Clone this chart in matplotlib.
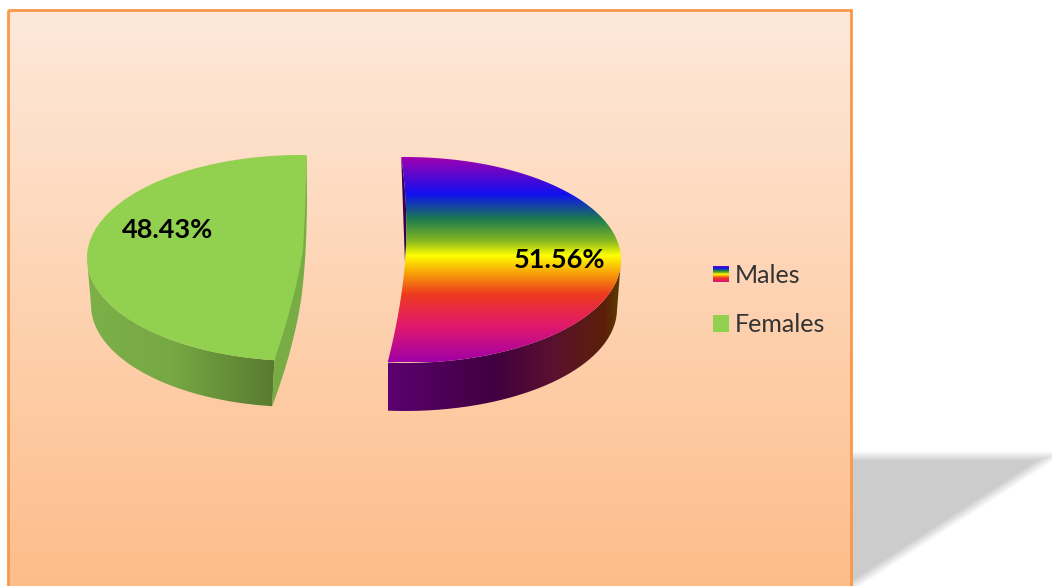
import numpy as np
import matplotlib
matplotlib.use("Agg")
import matplotlib.pyplot as plt
from matplotlib.colors import LinearSegmentedColormap
from matplotlib.legend_handler import HandlerBase
from matplotlib.patches import Patch, PathPatch, Polygon, Rectangle
from matplotlib.path import Path

plt.rcParams['font.family'] = ['Lato', 'DejaVu Sans']

# data
groups = ['Males', 'Females']
shares = [51.56, 48.43]
share_labels = ['51.56%', '48.43%']

# colours
orange_line = '#f9984a'
green_top = '#92d050'
green_inner = '#78ac44'
rainbow = LinearSegmentedColormap.from_list('rainbow_face', [
    (0.00, '#a000b0'), (0.18, '#1010f0'), (0.30, '#1a7a50'), (0.41, '#88b820'),
    (0.48, '#ffff00'), (0.56, '#f8a808'), (0.67, '#ee3a1e'), (0.83, '#e0186e'),
    (1.00, '#a000a8')])
male_rim = LinearSegmentedColormap.from_list('male_rim', [
    (0.00, '#5c0070'), (0.45, '#400040'), (0.70, '#5a1030'), (0.93, '#5c2008'), (1.00, '#5a4000')])
female_rim = LinearSegmentedColormap.from_list('female_rim', [
    (0.00, '#7cb048'), (0.45, '#76a844'), (1.00, '#587a2e')])
page = LinearSegmentedColormap.from_list('page', ['#fee9da', '#fdbd8a'])


def arc(cx, cy, rx, ry, a0, a1, n=200):
    t = np.radians(np.linspace(a0, a1, n))
    return np.column_stack([cx + rx * np.cos(t), cy - ry * np.sin(t)])


def bend(p0, c, p1, n=30):
    t = np.linspace(0, 1, n)[:, None]
    return (1 - t) ** 2 * np.array(p0) + 2 * t * (1 - t) * np.array(c) + t ** 2 * np.array(p1)


def gradient_fill(ax, pts, cmap, extent, vertical=True, zorder=2):
    # gradient image cut to the outline
    ramp = np.linspace(0, 1, 512)
    img = ramp[:, None] if vertical else ramp[None, :]
    im = ax.imshow(img, cmap=cmap, extent=extent, aspect='auto', origin='upper',
                   vmin=0, vmax=1, zorder=zorder, interpolation='bilinear')
    im.set_clip_path(PathPatch(Path(pts), transform=ax.transData))


fig = plt.figure(figsize=(10.52, 5.86), dpi=100, facecolor='white')
ax = fig.add_axes([0, 0, 1, 1])

# background panel
ax.imshow(np.linspace(0, 1, 600)[:, None], cmap=page, extent=(8, 851, 586, 10), aspect='auto', zorder=1)
ax.add_patch(Rectangle((8, 10), 843, 600, fill=False, ec=orange_line, lw=2.0, zorder=5))

# soft shadow right of the panel
yy, xx = np.mgrid[440:586, 851:1052]
edge_len = np.hypot(200, 130)
d_top = yy + 0.5 - 456
d_diag = ((1052 - xx - 0.5) * 130 - (yy + 0.5 - 456) * 200) / edge_len
d_in = np.minimum(d_top, d_diag)
fade = np.clip((d_in + 5) / 10, 0, 1)
shadow = np.ones((*fade.shape, 4))
shadow[..., :3] = 0.8
shadow[..., 3] = fade
ax.imshow(shadow, extent=(851, 1052, 586, 440), aspect='auto', zorder=1)

# slices, angles come from the shares
male_sweep = shares[0] / 100 * 360
female_sweep = shares[1] / 100 * 360

# Males
m_start = 91
m_end = m_start - male_sweep
top = (405, 260, 216, 103)
low = (405, 309, 212, 102)
face = arc(*top, m_start, m_end)
rim = np.vstack([arc(*top, m_end, 0), arc(*low, 0, m_end)])
gradient_fill(ax, rim, male_rim, (face[:, 0].min(), 621, 415, 255), vertical=False)
apex = (405, 263)
sliver = np.vstack([bend(face[0], (403, 210), apex), bend(apex, (409, 210), face[0])])
ax.add_patch(Polygon(sliver, closed=True, fc='#3a0050', ec='none', zorder=2))
outline = np.vstack([face, bend(face[-1], (401, 310), apex), bend(apex, (409, 210), face[0])])
gradient_fill(ax, outline, rainbow, (380, 630, 362, 157), zorder=3)

# Females
f_start = 88.5
f_end = f_start + female_sweep
top = (301, 258, 214, 103)
low = (298, 305, 207, 102)
face = arc(*top, f_start, f_end)
low_end = arc(*low, f_end, f_end, n=1)[0]
rim = np.vstack([arc(*top, 180, f_end), arc(*low, f_end, 180)])
gradient_fill(ax, rim, female_rim, (87, face[-1, 0], 415, 255), vertical=False)
apex = (303, 250)
inner = np.vstack([face[0:1], bend((307, 193), (307, 250), (302, 293)), bend((302, 293), (295, 345), low_end), face[-1:]])
ax.add_patch(Polygon(inner, closed=True, fc=green_inner, ec='none', zorder=2))
outline = np.vstack([face, bend(face[-1], (295, 300), apex), bend(apex, (306, 200), face[0])])
ax.add_patch(Polygon(outline, closed=True, fc=green_top, ec='none', zorder=3))

# share labels
ax.text(560, 259.5, share_labels[0], ha='center', va='center', fontsize=19.5, fontweight='bold', color='black', zorder=6)
ax.text(168, 229.5, share_labels[1], ha='center', va='center', fontsize=19.5, fontweight='bold', color='black', zorder=6)


class RainbowHandle(HandlerBase):
    def create_artists(self, legend, orig_handle, xdescent, ydescent, width, height, fontsize, trans):
        strips = []
        n = 16
        for i in range(n):
            strips.append(Rectangle((-xdescent, -ydescent + height * (n - 1 - i) / n), width, height / n + 0.2,
                                    fc=rainbow(0.1 + 0.75 * i / (n - 1)), ec='none', transform=trans))
        return strips


handles = [Patch(label=groups[0]), Patch(fc=green_top, ec='none', label=groups[1])]
leg = ax.legend(handles=handles, handler_map={handles[0]: RainbowHandle()}, frameon=False, fontsize=18,
                loc='upper left', bbox_to_anchor=(713, 264), bbox_transform=ax.transData, borderaxespad=0,
                borderpad=0, handlelength=0.64, handleheight=0.64, handletextpad=0.22, labelspacing=1.05,
                labelcolor='#333333')
leg.set_zorder(6)

ax.set_xlim(0, 1052)
ax.set_ylim(586, 0)
ax.axis('off')

fig.savefig('out.png', dpi=100, facecolor='white')
